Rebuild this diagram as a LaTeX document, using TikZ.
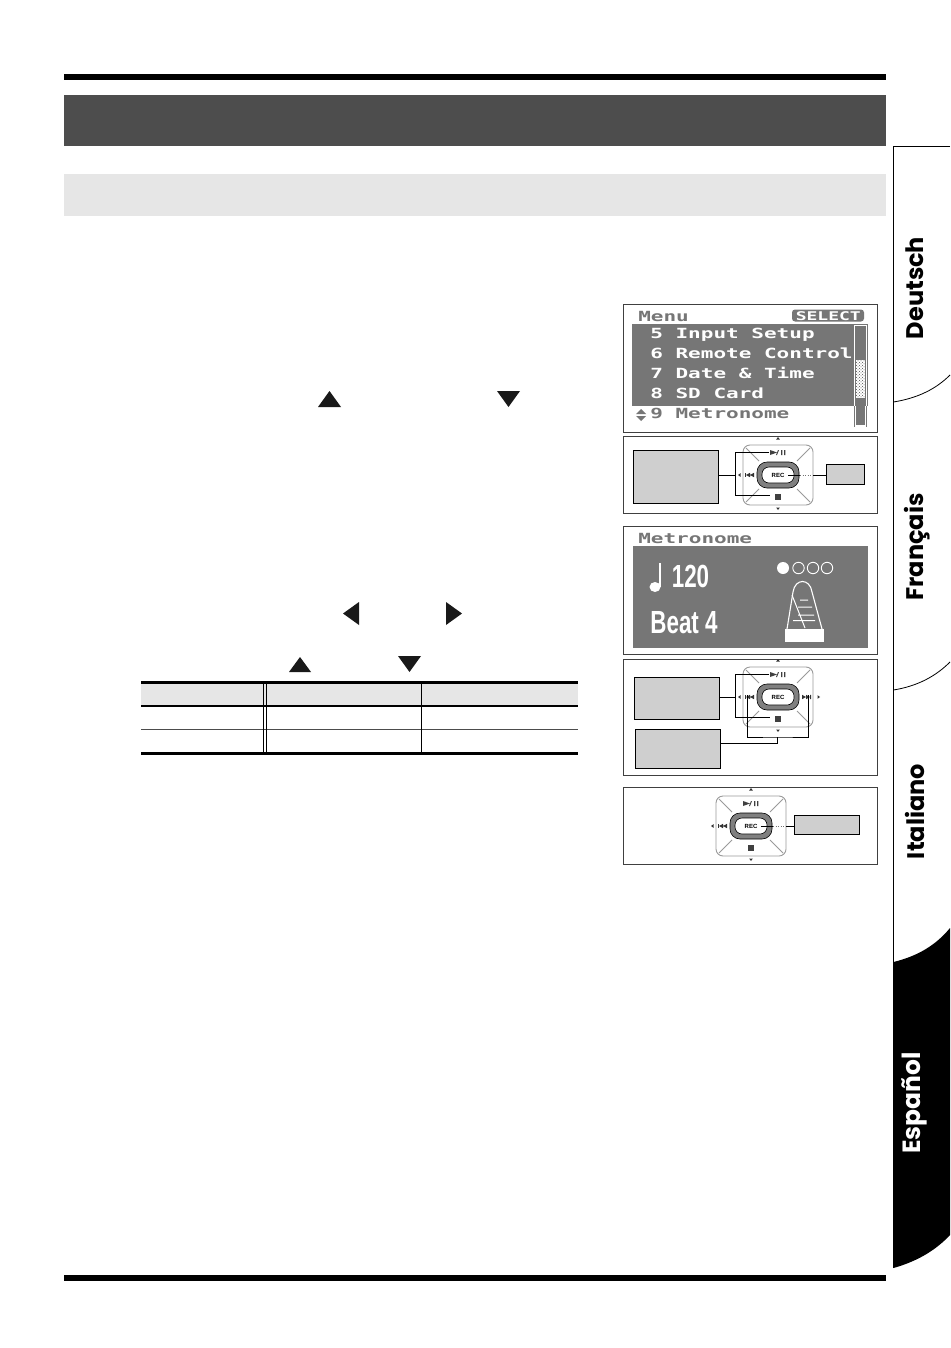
\documentclass[tikz,border=0pt]{standalone}
\usepackage{fontspec}
\newfontfamily\tabfont{Poppins}
\newfontfamily\lcdfont{DejaVu Sans Mono}
\newfontfamily\bigfont{Liberation Sans}
\usetikzlibrary{calc,positioning,patterns}
\definecolor{barshade}{HTML}{4D4D4D}
\definecolor{subshade}{HTML}{E6E6E6}
\definecolor{boxshade}{HTML}{CFCFCF}
\definecolor{lcdshade}{HTML}{767676}
\definecolor{padshade}{HTML}{9A9A9A}

\begin{document}
\begin{tikzpicture}[x=1pt,y=-1pt,
panel/.style={draw=black!75,fill=white,line width=0.8pt},
lcdband/.style={draw=none,fill=lcdshade},
lcdtext/.style={font=\lcdfont\bfseries\fontsize{14}{14}\selectfont,inner sep=0pt,anchor=base west,xscale=1.5},
bigtext/.style={font=\bigfont\bfseries\fontsize{32}{32}\selectfont,text=white,inner sep=0pt,xscale=0.7},
tabtext/.style={font=\tabfont\bfseries\fontsize{24}{24}\selectfont,rotate=90,inner sep=0pt},
label box/.style={draw=black,fill=boxshade,line width=0.8pt,inner sep=0pt,anchor=north west},
wire/.style={draw=black,line width=0.8pt},
faint wire/.style={draw=black!55,line width=0.7pt,dash pattern=on 1pt off 1.5pt},
keypad/.pic={
  \draw[padshade,line width=0.9pt,rounded corners=7pt] (-35,-30) rectangle (35,30);
  \foreach \sx/\sy in {-1/-1,1/-1,-1/1,1/1}
    \draw[padshade,line width=0.8pt] ({\sx*19},{\sy*14}) -- ({\sx*32},{\sy*27});
  \node[draw=black,fill=black!50,line width=0.6pt,rounded corners=10pt,minimum width=42pt,minimum height=26pt,inner sep=0pt] (-ring) at (0,0) {};
  \node[draw=black,fill=white,line width=0.6pt,rounded corners=7pt,minimum width=32pt,minimum height=16pt,inner sep=0pt,font=\bigfont\bfseries\fontsize{6}{6}\selectfont] (-rec) at (0,0) {REC};
  % small marks round the pad
  \fill[black!80] (-1.8,-35.5) -- (1.8,-35.5) -- (0,-38) -- cycle;
  \fill[black!80] (-1.8,32.5) -- (1.8,32.5) -- (0,35) -- cycle;
  \fill[black!80] (-37.5,-1.8) -- (-37.5,1.8) -- (-40,0) -- cycle;
  \fill[black!80] (-33,-2.2) rectangle (-32,2.2);
  \fill[black!80] (-28,-2.2) -- (-28,2.2) -- (-32,0) -- cycle (-24,-2.2) -- (-24,2.2) -- (-28,0) -- cycle;
  \fill[black!75] (-8,-25) -- (-8,-20) -- (-1,-22.5) -- cycle;
  \fill[black!75] (0,-25) -- (1,-25) -- (-1,-20) -- (-2,-20) -- cycle (3,-25) rectangle (4.4,-20) (6,-25) rectangle (7.4,-20);
  \fill[black!75] (-3,19) rectangle (3,25);
  \coordinate (-play) at (-9,-22.5);
  \coordinate (-stop) at (-8,20);
  \coordinate (-recend) at (10,0);
  \coordinate (-dotin) at (22,0);
  \coordinate (-dotout) at (35,0);
}]

%% margins of the page
\useasboundingbox (0,0) rectangle (950,1348);

%% page bars
\fill[black] (64,74) rectangle (886,80.5);
\fill[black] (64,1275) rectangle (886,1281);
\fill[barshade] (64,95) rectangle (886,146);
\fill[subshade] (64,174) rectangle (886,216);

%% language tabs
\fill[black] (893.5,962) .. controls (918,956) and (936,945) .. (950,928) -- (950,1235) .. controls (936,1250) and (918,1261) .. (893.5,1268) -- cycle;
\draw[black,line width=0.9pt] (950,146.5) -- (893.5,146.5) -- (893.5,1268);
\draw[black,line width=0.8pt] (893.5,402) .. controls (918,398) and (936,389) .. (950,375);
\draw[black,line width=0.8pt] (893.5,690) .. controls (918,686) and (936,676) .. (950,662);
\node[tabtext] (deutsch) at (915,288) {Deutsch};
\node[tabtext] (francais) at (917,547) {Français};
\node[tabtext] (italiano) at (915,811.5) {Italiano};
\node[tabtext,white,scale=1.04] (espanol) at (914,1103) {Español};

%% arrows in the text column
\foreach \ax/\ay/\bx/\by/\cx/\cy in {318/407/341/407/329.5/391, 497/391/520/391/508.5/407, 359/602/359/625/343/613.5, 446/602/446/625/462/613.5, 289/672/311/672/300/657, 398/656/421/656/409.5/672}
      \fill[black!90] (\ax,\ay) -- (\bx,\by) -- (\cx,\cy) -- cycle;

%% table
\fill[subshade] (141,682) rectangle (578,706);
\draw[black,line width=2.2pt] (141,682.5) -- (578,682.5);
\draw[black,line width=2.2pt] (141,706) -- (578,706);
\draw[black!70,line width=1pt] (141,729.5) -- (578,729.5);
\draw[black,line width=2.2pt] (141,753.5) -- (578,753.5);
\foreach \tx in {263.5,266.5,421.5}
      \draw[black,line width=0.8pt] (\tx,682) -- (\tx,753);

%% panel 1 - menu screen
\draw[panel] (623.5,304.5) rectangle (877,432);
\fill[lcdband] (632,324) rectangle (868,406);
\node[lcdtext,lcdshade] (menu) at (638,321) {Menu};
\fill[lcdshade,rounded corners=3pt] (792,309.5) rectangle (864,321.5);
\node[lcdtext,white,font=\lcdfont\bfseries\fontsize{12}{12}\selectfont] (select) at (795.5,320) {SELECT};
\foreach \row/\line/\ty in {0/{5 Input Setup}/338.5, 1/{6 Remote Control}/358.5, 2/{7 Date \& Time}/378.5, 3/{8 SD Card}/398.5}
      \node[lcdtext,white] (row-\row) at (650,\ty) {\line};
\node[lcdtext,lcdshade] (row-4) at (650,418.5) {9 Metronome};
\fill[lcdshade] (636,414) -- (646,414) -- (641,409) -- cycle (636,416) -- (646,416) -- (641,421) -- cycle;
%% scroll bar
\draw[white,line width=0.8pt] (854.5,325.5) rectangle (866.5,406);
\draw[lcdshade,line width=0.8pt] (854.5,406) -- (854.5,427) (866.5,406) -- (866.5,427);
\fill[lcdshade] (856,327) rectangle (865,360);
\fill[white] (856,360) rectangle (865,398);
\fill[pattern=crosshatch dots,pattern color=black!70] (856,360) rectangle (865,398);
\fill[lcdshade] (856,398) rectangle (865,425);

%% panel 2 - keypad with two labels
\draw[panel] (623.5,436.5) rectangle (877,513);
\pic (padA) at (778,475) {keypad};
\node[label box,minimum width=85pt,minimum height=53.5pt] (boxA) at (633,449.5) {};
\node[label box,minimum width=38pt,minimum height=19.5pt] (boxB) at (826,464) {};
\coordinate (jointA) at (735.5,475);
\draw[wire] (boxA.east |- jointA) -- (jointA);
\draw[wire] (padA-play) -| (jointA) |- (padA-stop);
\draw[wire] (padA-recend) -- (padA-dotin);
\draw[faint wire] (padA-dotin) -- (padA-dotout);
\draw[wire] (padA-dotout) -- (boxB.west |- padA-dotout);

%% panel 3 - metronome screen
\draw[panel] (623.5,526.5) rectangle (877,654);
\fill[lcdband] (633,546) rectangle (868,648);
\node[lcdtext,lcdshade] (metro) at (638,543) {Metronome};
\fill[white] (655,587) ellipse (5.5 and 5);
\draw[white,line width=1.6pt] (659.7,587) -- (659.7,563);
\node[bigtext] (tempo) at (690.5,576.5) {120};
\node[bigtext] (beat) at (684,623) {Beat 4};
\fill[white] (783,568) circle (6);
\foreach \dx in {798.5,813,827}
      \draw[white,line width=0.9pt] (\dx,568) circle (5.7);
%% little metronome
\draw[white,line width=1.1pt] (787,629) -- (793,592) .. controls (795,578) and (810,578) .. (812,592) -- (822,629);
\fill[white] (785,629) rectangle (824,642);
\draw[white,line width=1pt] (792,595) -- (805,628) (800,600) -- (808,600) (798,607) -- (812,607) (798,615) -- (814,615) (793,620.5) -- (815,620.5);

%% panel 4 - keypad with skip buttons
\draw[panel] (623.5,659.5) rectangle (877,775);
\pic (padB) at (778,697) {keypad};
\fill[black!80] (806,694.8) -- (806,699.2) -- (810,697) -- cycle (802,694.8) -- (802,699.2) -- (806,697) -- cycle (810,694.8) rectangle (811,699.2);
\fill[black!80] (817.5,695.2) -- (817.5,698.8) -- (820,697) -- cycle;
\node[label box,minimum width=84.5pt,minimum height=42pt] (boxC) at (634,677) {};
\node[label box,minimum width=85pt,minimum height=39pt] (boxD) at (634.5,729) {};
\coordinate (jointC) at (735.5,697);
\coordinate (jointD) at (777.7,743);
\coordinate (skipL) at (747.7,695);
\coordinate (skipR) at (808,695);
\draw[wire] (boxC.east |- jointC) -- (jointC);
\draw[wire] (padB-play) -| (jointC) |- (padB-stop);
\draw[wire] (boxD.east |- jointD) -- (jointD) -- (777.7,737);
\draw[wire] (skipL) |- (777.7,737) -| (skipR);

%% panel 5 - keypad with one label
\draw[panel] (623.5,787) rectangle (877,864);
\pic (padC) at (751,826) {keypad};
\node[label box,minimum width=65pt,minimum height=19pt] (boxE) at (794,815) {};
\draw[wire] (padC-recend) -- (padC-dotin);
\draw[faint wire] (padC-dotin) -- (padC-dotout);
\draw[wire] (padC-dotout) -- (boxE.west |- padC-dotout);

\end{tikzpicture}
\end{document}
